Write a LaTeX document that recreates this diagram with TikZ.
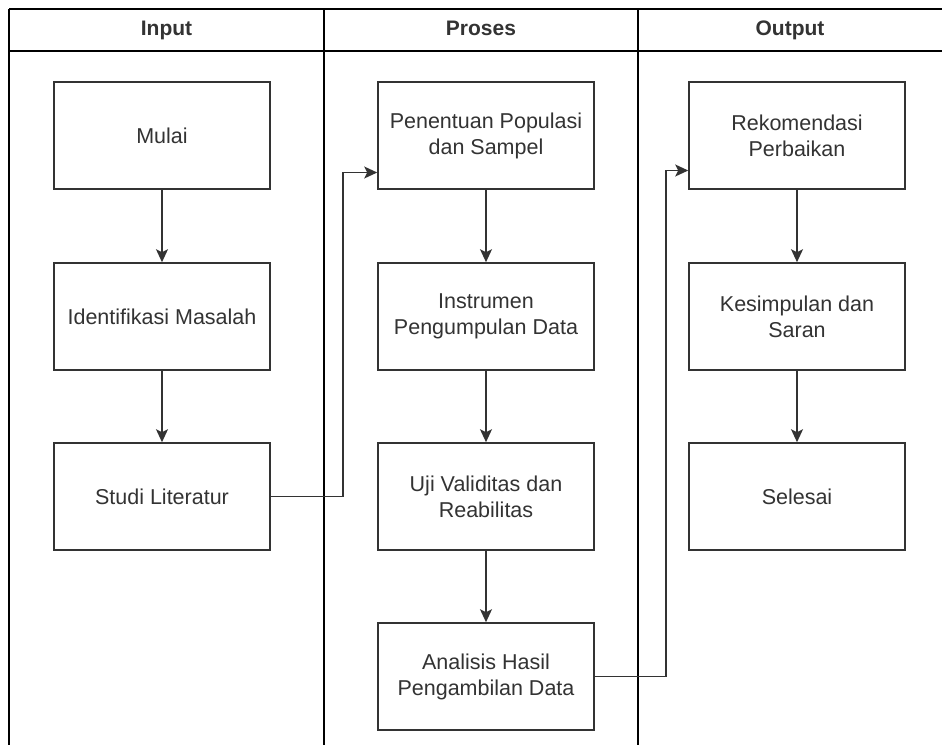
\documentclass[tikz,border=0pt]{standalone}
\usepackage{fontspec}
\setmainfont{Liberation Sans}
\usetikzlibrary{arrows.meta}
\definecolor{ink}{HTML}{333333}
\tikzset{
  box/.style={draw=ink, line width=1.6pt, fill=white, minimum width=216pt, minimum height=107pt,
    align=center, font=\fontsize{21.5}{26}\selectfont, text=ink, inner sep=2pt},
  lane/.style={draw=black, line width=1.8pt},
  head/.style={font=\bfseries\fontsize{21}{26}\selectfont, text=ink, text height=15pt, text depth=4.5pt, inner sep=0pt},
  arr/.style={draw=ink, line width=1.6pt, -{Stealth[length=13pt,width=12pt,inset=3pt]}}
}
\begin{document}
\begin{tikzpicture}[x=1pt,y=-1pt]
\useasboundingbox[fill=white] (0,0) rectangle (942,745);
% swimlane frame
\draw[lane] (9,9) -- (942,9);
\draw[lane] (9,51) -- (942,51);
\draw[lane] (9,9) -- (9,745);
\draw[lane] (324,9) -- (324,745);
\draw[lane] (638,9) -- (638,745);
\node[head] (hin) at (166.5,30) {Input};
\node[head] (hpr) at (481,30) {Proses};
\node[head] (hout) at (790,30) {Output};
% boxes
\node[box] (mulai) at (162,135.5) {Mulai};
\node[box] (iden) at (162,316.5) {Identifikasi Masalah};
\node[box] (studi) at (162,496.5) {Studi Literatur};
\node[box] (pen) at (486,135.5) {Penentuan Populasi\\dan Sampel};
\node[box] (ins) at (486,316.5) {Instrumen\\Pengumpulan Data};
\node[box] (uji) at (486,496.5) {Uji Validitas dan\\Reabilitas};
\node[box] (ana) at (486,676.5) {Analisis Hasil\\Pengambilan Data};
\node[box] (rek) at (797,135.5) {Rekomendasi\\Perbaikan};
\node[box] (kes) at (797,316.5) {Kesimpulan dan\\Saran};
\node[box] (sel) at (797,496.5) {Selesai};
% arrows
\draw[arr] (mulai) -- (iden);
\draw[arr] (iden) -- (studi);
\draw[arr] (pen) -- (ins);
\draw[arr] (ins) -- (uji);
\draw[arr] (uji) -- (ana);
\draw[arr] (rek) -- (kes);
\draw[arr] (kes) -- (sel);
\draw[arr] (studi.east) -- (343,496.5) |- ([yshift=-37pt]pen.west);
\draw[arr] (ana.east) -- (666,676.5) |- ([yshift=-35pt]rek.west);
\end{tikzpicture}
\end{document}
